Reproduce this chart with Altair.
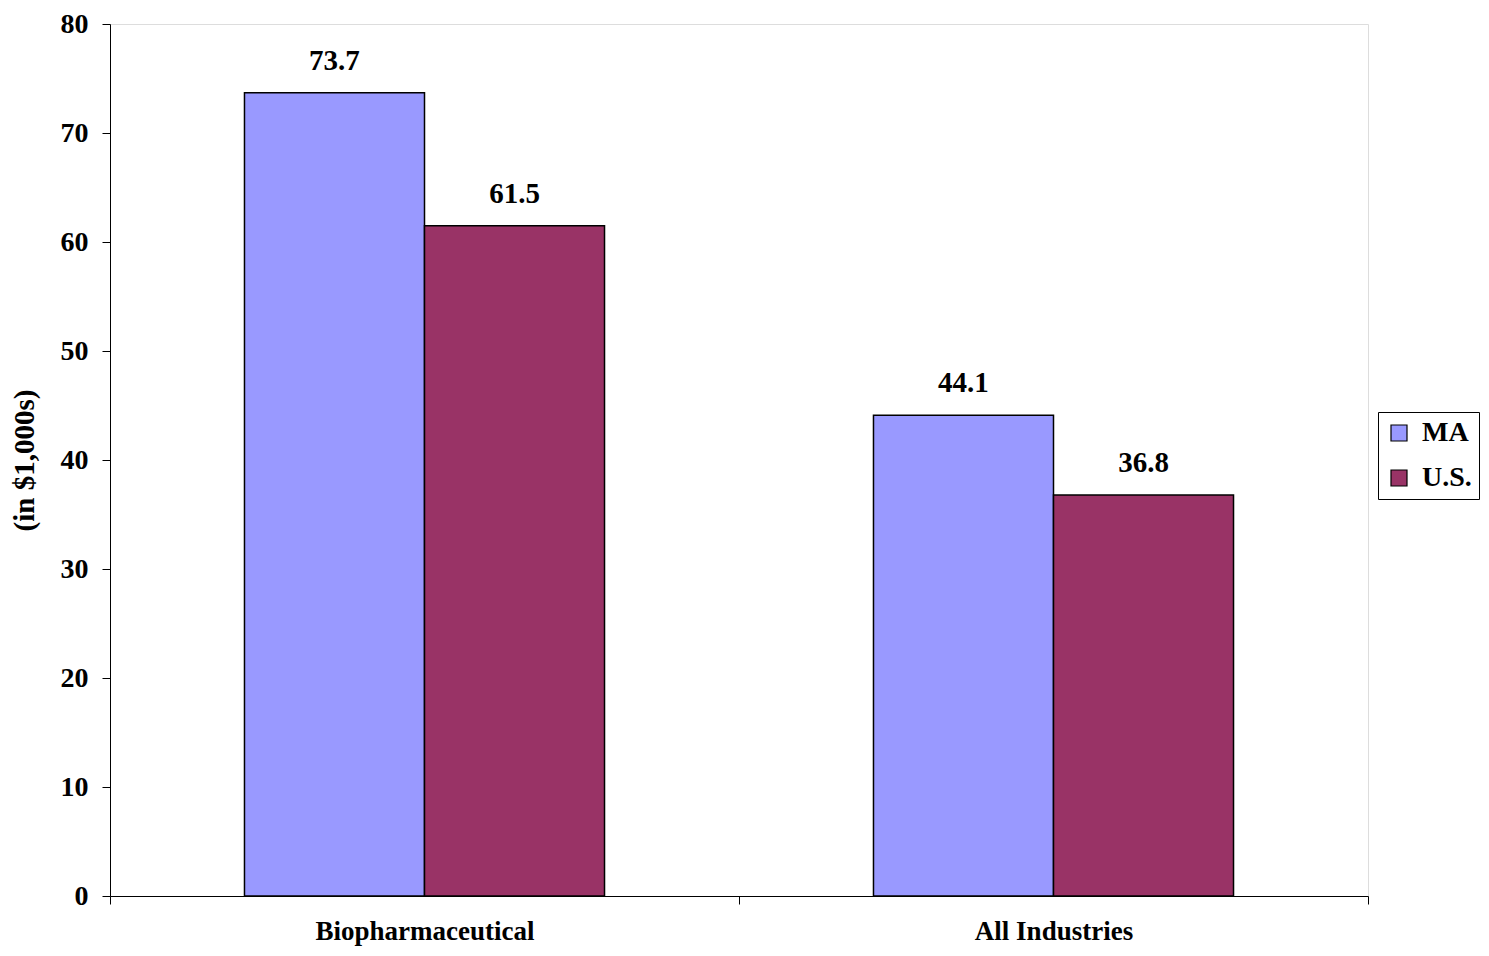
import altair as alt
import pandas as pd

categories = ["Biopharmaceutical", "Biopharmaceutical", "All Industries", "All Industries"]
series = ["MA", "U.S.", "MA", "U.S."]
values = [73.7, 61.5, 44.1, 36.8]

df = pd.DataFrame({"cat": categories, "series": series, "value": values})
df["label"] = df["value"].map(lambda v: f"{v:.1f}")

FONT = "Liberation Serif"
cat_order = ["Biopharmaceutical", "All Industries"]

x = alt.X("cat:N", sort=cat_order, title=None,
          scale=alt.Scale(paddingInner=0, paddingOuter=0),
          axis=alt.Axis(labelAngle=0, tickBand="extent", labelFont=FONT, labelFontSize=27,
                        labelFontWeight="bold", labelColor="black", labelPadding=35,
                        labelBaseline="alphabetic",
                        labelLimit=0, tickSize=8, tickColor="black", domainColor="black",
                        labelFlush=False))
xo = alt.XOffset("series:N", sort=["MA", "U.S."],
                 scale=alt.Scale(paddingOuter=0.747, paddingInner=0))
y = alt.Y("value:Q", title="(in $1,000s)",
          scale=alt.Scale(domain=[0, 80], nice=False),
          axis=alt.Axis(values=[0, 10, 20, 30, 40, 50, 60, 70, 80], grid=False,
                        labelFont=FONT, labelFontSize=28, labelFontWeight="bold",
                        labelColor="black", labelPadding=14, tickSize=8, tickColor="black",
                        domainColor="black", titleFont=FONT, titleFontSize=29,
                        titleFontWeight="bold", titleColor="black", titlePadding=21))
color = alt.Color("series:N", sort=["MA", "U.S."],
                  scale=alt.Scale(domain=["MA", "U.S."], range=["#9999FF", "#993366"]),
                  legend=alt.Legend(title=None, orient="none", legendX=1268, legendY=388,
                                    symbolType="square", symbolSize=256,
                                    symbolStrokeColor="black", symbolStrokeWidth=1.2,
                                    labelFont=FONT, labelFontSize=28, labelFontWeight="bold",
                                    labelColor="black", strokeColor="black", fillColor="white",
                                    padding=7, rowPadding=17, labelOffset=9))

base = alt.Chart(df).encode(x=x, xOffset=xo, y=y)
bars = base.mark_bar(stroke="black", strokeWidth=1.5).encode(color=color)
text = base.mark_text(dy=-17, baseline="bottom", font=FONT, fontSize=29,
                      fontWeight="bold", color="black").encode(text="label:N")

chart = (bars + text).properties(
    width=1258, height=872,
    autosize=alt.AutoSizeParams(type="none"),
    padding={"left": 102, "top": 16, "right": 112, "bottom": 52},
).configure_view(
    stroke="#808080", strokeWidth=1.5
).configure(background="white")

chart.save("out.html", embed_options={"renderer": "svg", "actions": False})
